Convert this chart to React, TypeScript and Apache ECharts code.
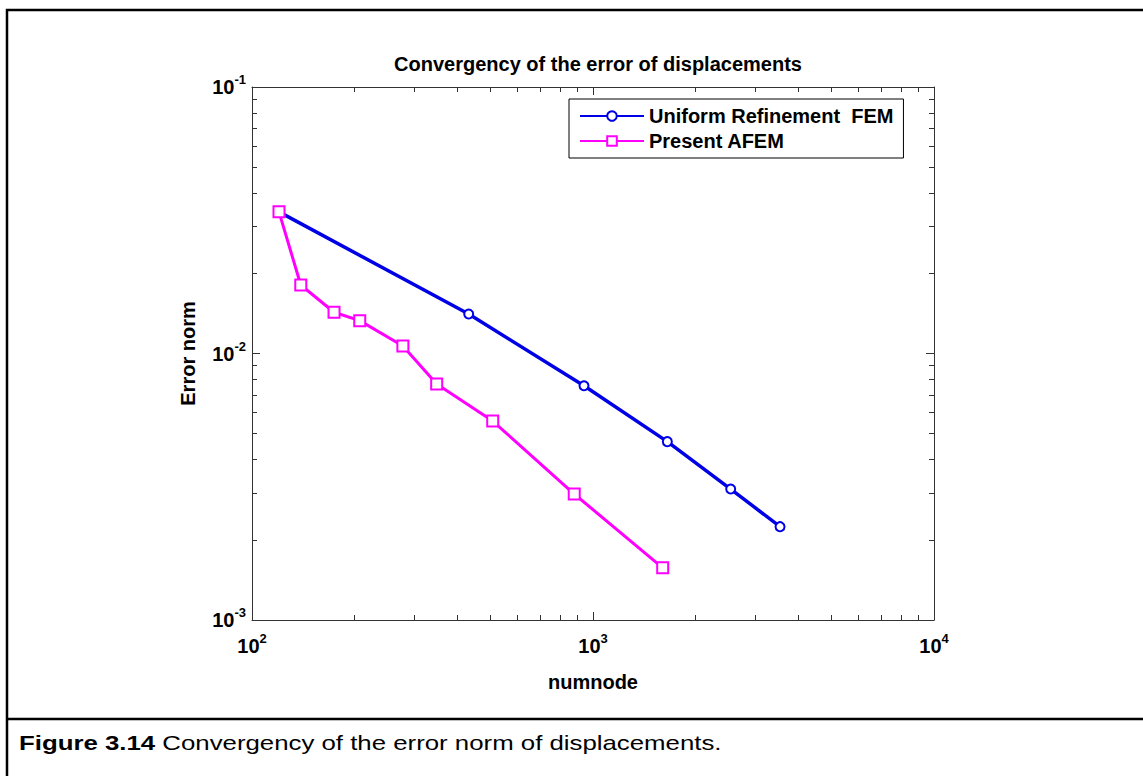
import React, { useEffect, useRef } from "react";
import * as echarts from "echarts";

// ---- data ----
const uniformNodes = [120, 432, 941, 1652, 2534, 3536];
const uniformError = [0.034, 0.01406, 0.00757, 0.00467, 0.0031, 0.00224];

const afemNodes = [120, 139, 174, 207, 277, 348, 508, 881, 1601];
const afemError = [0.034, 0.01807, 0.01428, 0.01328, 0.01067, 0.00769, 0.00558, 0.00297, 0.00157];

const seriesNames = ["Uniform Refinement  FEM", "Present AFEM"];
const xTickExponents = [2, 3, 4];
const yTickExponents = [-3, -2, -1];

const titleText = "Convergency of the error of displacements";
const xName = "numnode";
const yName = "Error norm";
const captionBold = "Figure 3.14";
const captionText = " Convergency of the error norm of displacements.";

const FONT = "'Liberation Sans', Arial, Helvetica, sans-serif";

function expLabel(v: number, exps: number[]) {
  const e = Math.round(Math.log10(v));
  if (!exps.includes(e)) return "";
  return `{b|10}{s|${e}}`;
}

export default function App() {
  const ref = useRef<HTMLDivElement>(null);
  useEffect(() => {
    if (!ref.current) return;
    const chart = echarts.init(ref.current, undefined, { renderer: "svg" });
    const axisColor = "#333";
    const richLabel = {
      b: { fontFamily: FONT, fontWeight: "bold", fontSize: 20, color: "#000" },
      s: { fontFamily: FONT, fontWeight: "bold", fontSize: 13, color: "#000", padding: [0, 0, 15, 0] },
    };
    const commonTick = { show: true, inside: true, length: 8, lineStyle: { color: axisColor, width: 1 } };
    const commonMinor = { show: true, splitNumber: 9, length: 5, lineStyle: { color: axisColor, width: 1 } };
    const axisLine = { show: true, lineStyle: { color: axisColor, width: 1 } };

    const xMin = Math.pow(10, xTickExponents[0]);
    const xMax = Math.pow(10, xTickExponents[xTickExponents.length - 1]);
    const yMin = Math.pow(10, yTickExponents[0]);
    const yMax = Math.pow(10, yTickExponents[yTickExponents.length - 1]);

    chart.setOption({
      animation: false,
      backgroundColor: "#fff",
      title: {
        text: titleText,
        left: 593,
        top: 49,
        textAlign: "center",
        textStyle: { fontFamily: FONT, fontWeight: "bold", fontSize: 20, color: "#000" },
      },
      legend: {
        orient: "vertical",
        left: 569,
        top: 99,
        data: seriesNames,
        backgroundColor: "#fff",
        borderColor: "#000",
        borderWidth: 1,
        padding: [7, 10, 7, 10],
        itemGap: 5,
        itemWidth: 64,
        itemHeight: 12,
        textStyle: { fontFamily: FONT, fontWeight: "bold", fontSize: 20, color: "#000" },
      },
      grid: { left: 252, right: 209, top: 87, bottom: 156, containLabel: false },
      xAxis: [
        {
          type: "log",
          logBase: 10,
          min: xMin,
          max: xMax,
          position: "bottom",
          name: xName,
          nameLocation: "middle",
          nameGap: 52,
          nameTextStyle: { fontFamily: FONT, fontWeight: "bold", fontSize: 20, color: "#000" },
          axisLine,
          axisTick: commonTick,
          minorTick: commonMinor,
          splitLine: { show: false },
          minorSplitLine: { show: false },
          axisLabel: {
            margin: 12,
            formatter: (v: number) => expLabel(v, xTickExponents),
            rich: richLabel,
          },
        },
        {
          type: "log",
          logBase: 10,
          min: xMin,
          max: xMax,
          position: "top",
          axisLine,
          axisTick: commonTick,
          minorTick: commonMinor,
          splitLine: { show: false },
          axisLabel: { show: false },
        },
      ],
      yAxis: [
        {
          type: "log",
          logBase: 10,
          min: yMin,
          max: yMax,
          position: "left",
          name: yName,
          nameLocation: "middle",
          nameGap: 54,
          nameRotate: 90,
          nameTextStyle: { fontFamily: FONT, fontWeight: "bold", fontSize: 20, color: "#000" },
          axisLine,
          axisTick: commonTick,
          minorTick: commonMinor,
          splitLine: { show: false },
          axisLabel: {
            margin: 6,
            formatter: (v: number) => expLabel(v, yTickExponents),
            rich: richLabel,
          },
        },
        {
          type: "log",
          logBase: 10,
          min: yMin,
          max: yMax,
          position: "right",
          axisLine,
          axisTick: commonTick,
          minorTick: commonMinor,
          splitLine: { show: false },
          axisLabel: { show: false },
        },
      ],
      series: [
        {
          name: seriesNames[0],
          type: "line",
          xAxisIndex: 0,
          yAxisIndex: 0,
          data: uniformNodes.map((n, i) => [n, uniformError[i]]),
          symbol: "emptyCircle",
          symbolSize: 9,
          showAllSymbol: true,
          lineStyle: { color: "#0000e6", width: 3.5 },
          itemStyle: { color: "#0000e6", borderColor: "#0000e6", borderWidth: 2 },
          z: 3,
        },
        {
          name: seriesNames[1],
          type: "line",
          xAxisIndex: 0,
          yAxisIndex: 0,
          data: afemNodes.map((n, i) => [n, afemError[i]]),
          symbol: "emptyRect",
          symbolSize: 11,
          showAllSymbol: true,
          lineStyle: { color: "#ff00ff", width: 3 },
          itemStyle: { color: "#ff00ff", borderColor: "#ff00ff", borderWidth: 2.5 },
          z: 4,
        },
      ],
      graphic: [
        {
          type: "polyline",
          shape: { points: [[1143, 10], [7, 10], [7, 776]] },
          style: { stroke: "#000", lineWidth: 2.5, fill: null },
          silent: true,
        },
        {
          type: "line",
          shape: { x1: 7, y1: 719, x2: 1143, y2: 719 },
          style: { stroke: "#000", lineWidth: 2.5 },
          silent: true,
        },
        {
          type: "text",
          x: 19,
          y: 743,
          scaleX: 1.29,
          style: {
            text: `{b|${captionBold}}{r|${captionText}}`,
            verticalAlign: "middle",
            rich: {
              b: { fontFamily: FONT, fontWeight: "bold", fontSize: 20, fill: "#000" },
              r: { fontFamily: FONT, fontWeight: "normal", fontSize: 20, fill: "#000" },
            },
          },
          silent: true,
        },
      ],
    });
    return () => chart.dispose();
  }, []);
  return (
    <div
      ref={ref}
      style={{ position: "fixed", left: 0, top: 0, width: 1143, height: 776, background: "#fff" }}
    />
  );
}
